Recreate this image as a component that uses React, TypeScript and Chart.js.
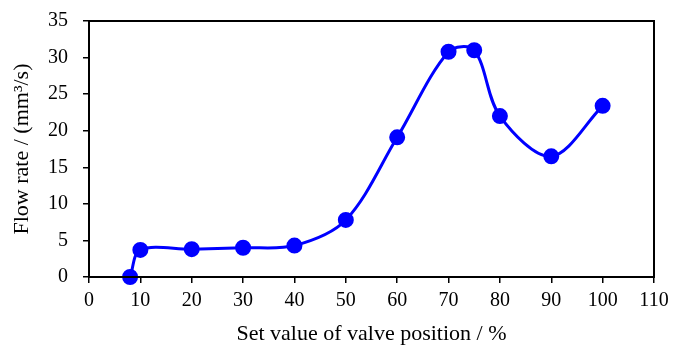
import React, { useEffect, useRef } from "react";
import { Chart, registerables } from "chart.js";

Chart.register(...registerables);

const valvePosition = [8, 10, 20, 30, 40, 50, 60, 70, 75, 80, 90, 100];
const flowRate = [0, 3.7, 3.8, 4.0, 4.3, 7.8, 19.1, 30.8, 31.0, 22.0, 16.5, 23.4];
const xTitle = "Set value of valve position / %";
const yTitle = "Flow rate / (mm\u00B3/s)";

const frame = {
  id: "frame",
  afterDraw(chart: any) {
    const { ctx, chartArea } = chart;
    ctx.save();
    ctx.strokeStyle = "#000";
    ctx.lineWidth = 2;
    ctx.strokeRect(chartArea.left, chartArea.top, chartArea.right - chartArea.left, chartArea.bottom - chartArea.top);
    ctx.restore();
  },
};

export default function App() {
  const ref = useRef<HTMLCanvasElement>(null);
  useEffect(() => {
    const family = "'Liberation Serif', 'Times New Roman', serif";
    const tickFont = { family, size: 20 };
    const titleFont = { family, size: 22 };
    const chart = new Chart(ref.current!, {
      type: "line",
      data: {
        datasets: [
          {
            data: valvePosition.map((x, i) => ({ x, y: flowRate[i] })),
            borderColor: "#0000FF",
            backgroundColor: "#0000FF",
            borderWidth: 3,
            pointRadius: 6.5,
            pointHoverRadius: 6.5,
            tension: 0.33,
            clip: false as any,
          },
        ],
      },
      options: {
        animation: false,
        responsive: false,
        layout: { padding: { top: 21, right: 32 } },
        plugins: { legend: { display: false }, tooltip: { enabled: false } },
        scales: {
          x: {
            type: "linear",
            min: 0,
            max: 110,
            ticks: { stepSize: 10, color: "#000", font: tickFont, padding: 6, maxRotation: 0 },
            grid: { display: true, drawOnChartArea: false, drawTicks: true, tickLength: 6, color: "#000", lineWidth: 1.5 },
            border: { display: true, color: "#000", width: 2 },
            title: { display: true, text: xTitle, color: "#000", font: titleFont, padding: { top: 0, bottom: 2 } },
            afterFit: (s: any) => { s.height = 72; s.paddingLeft = 0; s.paddingRight = 0; },
          },
          y: {
            type: "linear",
            min: 0,
            max: 35,
            ticks: { stepSize: 5, color: "#000", font: tickFont, padding: 15 },
            grid: { display: true, drawOnChartArea: false, drawTicks: true, tickLength: 6, color: "#000", lineWidth: 1.5 },
            border: { display: true, color: "#000", width: 2 },
            title: { display: true, text: yTitle, color: "#000", font: titleFont, padding: { top: 9, bottom: 0 } },
            afterFit: (s: any) => { s.width = 89; s.paddingTop = 0; s.paddingBottom = 0; },
          },
        },
      },
      plugins: [frame],
    });
    return () => chart.destroy();
  }, []);
  return (
    <div style={{ position: "fixed", left: 0, top: 0, width: 686, height: 349, background: "#fff" }}>
      <canvas ref={ref} width={686} height={349} />
    </div>
  );
}
